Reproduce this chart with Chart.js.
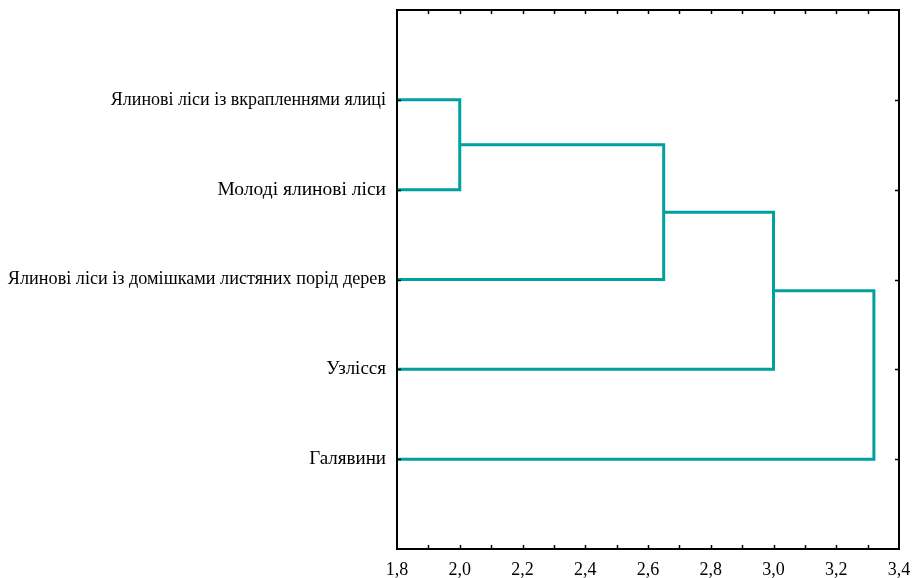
<!DOCTYPE html>
<html>
<head>
<meta charset="utf-8">
<script src="https://cdn.jsdelivr.net/npm/chart.js@4/dist/chart.umd.min.js"></script>
<style>
  html, body { margin: 0; padding: 0; background: #ffffff; }
  #wrap { width: 921px; height: 578px; position: relative; }
</style>
</head>
<body>
<div id="wrap"><canvas id="dendro"></canvas></div>
<script>
// Objects being clustered, top to bottom
const clusters = [
  'Ялинові ліси із вкрапленнями ялиці',
  'Молоді ялинові ліси',
  'Ялинові ліси із домішками листяних порід дерев',
  'Узлісся',
  'Галявини'
];
// Linkage distance of each successive join
const joinDistances = [2.0, 2.65, 3.0, 3.32];
// Members of each join: 'L<n>' = leaf n, 'J<n>' = result of join n
const joinLeft  = ['L0', 'J0', 'J1', 'J2'];
const joinRight = ['L1', 'L2', 'L3', 'L4'];
// Distance axis
const xTickValues = [1.8, 2.0, 2.2, 2.4, 2.6, 2.8, 3.0, 3.2, 3.4];
const xMinorValues = [1.9, 2.1, 2.3, 2.5, 2.7, 2.9, 3.1, 3.3];
// Label font size for each cluster name
const labelSizes = [18, 19.5, 18.2, 19, 19];

const LINE_COLOR = '#00a09e';
const SERIF = "'Liberation Serif', 'Times New Roman', serif";

// Resolve a node reference to its vertical position and join height
const joinNodes = [];
function node(ref) {
  const i = +ref.slice(1);
  if (ref[0] === 'L') return { y: i + 1, h: 0 };
  return joinNodes[i];
}
const datasets = joinDistances.map((d, k) => {
  const a = node(joinLeft[k]);
  const b = node(joinRight[k]);
  joinNodes.push({ y: (a.y + b.y) / 2, h: d });
  return {
    data: [
      { x: a.h, y: a.y },
      { x: d,   y: a.y },
      { x: d,   y: b.y },
      { x: b.h, y: b.y }
    ],
    showLine: true,
    borderColor: LINE_COLOR,
    borderWidth: 3,
    pointRadius: 0,
    borderJoinStyle: 'miter',
    borderCapStyle: 'butt',
    tension: 0,
    fill: false
  };
});

// Black frame round the plot with short inward tick marks
const framePlugin = {
  id: 'frame',
  afterDraw(chart) {
    const { ctx, chartArea: a, scales: { x, y } } = chart;
    ctx.save();
    ctx.strokeStyle = '#000';
    ctx.lineWidth = 2;
    ctx.strokeRect(a.left, a.top, a.right - a.left, a.bottom - a.top);
    ctx.lineWidth = 1.5;
    ctx.beginPath();
    xTickValues.concat(xMinorValues).forEach(v => {
      const px = Math.round(x.getPixelForValue(v)) + 0.5;
      if (px <= a.left + 1 || px >= a.right - 1) return;
      ctx.moveTo(px, a.top); ctx.lineTo(px, a.top + 4);
      ctx.moveTo(px, a.bottom); ctx.lineTo(px, a.bottom - 4);
    });
    clusters.forEach((c, i) => {
      const py = Math.round(y.getPixelForValue(i + 1)) + 0.5;
      ctx.moveTo(a.left, py); ctx.lineTo(a.left + 4, py);
      ctx.moveTo(a.right, py); ctx.lineTo(a.right - 4, py);
    });
    ctx.stroke();
    ctx.restore();
  }
};

new Chart(document.getElementById('dendro'), {
  type: 'scatter',
  data: { datasets },
  options: {
    responsive: true,
    maintainAspectRatio: false,
    animation: false,
    layout: { padding: { top: 10, right: 22, left: 0, bottom: 0 } },
    plugins: { legend: { display: false }, tooltip: { enabled: false } },
    scales: {
      x: {
        type: 'linear',
        min: 1.8,
        max: 3.4,
        grid: { display: false, drawTicks: false },
        border: { display: false },
        afterBuildTicks: s => { s.ticks = xTickValues.map(v => ({ value: v })); },
        afterFit: s => { s.height = 29; s.paddingLeft = 0; s.paddingRight = 0; },
        ticks: {
          autoSkip: false,
          maxRotation: 0,
          padding: 10,
          color: '#000',
          font: { family: SERIF, size: 18 },
          callback: v => v.toFixed(1).replace('.', ',')
        }
      },
      y: {
        type: 'linear',
        min: 0,
        max: 6,
        reverse: true,
        grid: { display: false, drawTicks: false },
        border: { display: false },
        afterBuildTicks: s => { s.ticks = clusters.map((c, i) => ({ value: i + 1 })); },
        afterFit: s => { s.width = 397; s.paddingTop = 0; s.paddingBottom = 0; },
        ticks: {
          autoSkip: false,
          padding: 11,
          color: '#000',
          font: ctx => ({ family: SERIF, size: labelSizes[ctx.index] || 17 }),
          callback: v => clusters[v - 1]
        }
      }
    }
  },
  plugins: [framePlugin]
});
</script>
</body>
</html>
